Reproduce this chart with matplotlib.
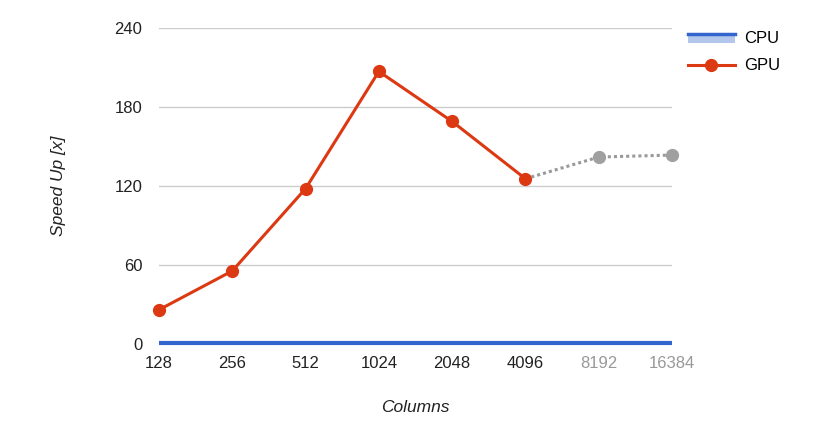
import matplotlib
matplotlib.use("Agg")
import matplotlib.pyplot as plt
from matplotlib.legend_handler import HandlerBase
from matplotlib.patches import Rectangle
from matplotlib.lines import Line2D

plt.rcParams['font.family'] = ['Liberation Sans', 'DejaVu Sans']

categories = ["128", "256", "512", "1024", "2048", "4096", "8192", "16384"]
cpu = [1, 1, 1, 1, 1, 1, 1, 1]
gpu = [26, 55.5, 118, 207, 169, 125.5, 142, 143.5]
n_solid = 6  # measured points; the rest are projected (gray)
yticks = [0, 60, 120, 180, 240]

RED = "#dc3912"
BLUE = "#3366cc"
GRAY = "#999999"

fig = plt.figure(figsize=(8.30, 4.43), dpi=100)
ax = fig.add_axes([159/830, 1-344/443, (672-159)/830, (344-28)/443])

x = list(range(len(categories)))
ax.set_xlim(0, len(categories)-1)
ax.set_ylim(0, 240)
ax.set_yticks(yticks)
ax.yaxis.grid(True, color="#cccccc", linewidth=1)
ax.set_axisbelow(True)
for s in ax.spines.values():
    s.set_visible(False)
ax.tick_params(length=0, labelsize=12, colors="#222222")
ax.tick_params(axis='y', pad=12)
ax.tick_params(axis='x', pad=9)
ax.set_xticks(x)
ax.set_xticklabels(categories)
for i, lbl in enumerate(ax.get_xticklabels()):
    if i >= n_solid:
        lbl.set_color("#999999")

# CPU line
ax.plot(x, cpu, color=BLUE, linewidth=3, zorder=3, clip_on=False,
        solid_capstyle='butt')
# GPU projected (dotted gray)
ax.plot(x[n_solid-1:], gpu[n_solid-1:], color=GRAY, linewidth=2.2,
        linestyle=(0, (1, 1)), zorder=4, clip_on=False)
ax.plot(x[n_solid:], gpu[n_solid:], 'o', color="#a0a0a0", markersize=8.5,
        zorder=5, clip_on=False)
# GPU measured
ax.plot(x[:n_solid], gpu[:n_solid], '-o', color=RED, linewidth=2.2,
        markersize=8.5, zorder=6, clip_on=False)

ax.set_xlabel("Columns", fontstyle="italic", fontsize=12.5, color="#222222")
ax.xaxis.set_label_coords(0.5, -(407-344)/316, transform=ax.transAxes)
ax.xaxis.label.set_verticalalignment('center')
ax.set_ylabel("Speed Up [x]", fontstyle="italic", fontsize=12.5,
              color="#222222")
ax.yaxis.set_label_coords(-(159-58)/513, 0.5, transform=ax.transAxes)
ax.yaxis.label.set_verticalalignment('center')


class AreaHandler(HandlerBase):
    def create_artists(self, legend, orig_handle, xdescent, ydescent,
                       width, height, fontsize, trans):
        r = Rectangle((-xdescent, -ydescent), width, height*0.75,
                      facecolor="#b3c6ec", edgecolor="none", transform=trans)
        l = Line2D([-xdescent, -xdescent+width],
                   [-ydescent+height*0.8, -ydescent+height*0.8],
                   color=BLUE, linewidth=2.5, transform=trans)
        return [r, l]


cpu_handle = Rectangle((0, 0), 1, 1)
gpu_handle = Line2D([], [], color=RED, linewidth=2.2, marker='o',
                    markersize=8.5)
leg = fig.legend([cpu_handle, gpu_handle], ["CPU", "GPU"],
                 handler_map={Rectangle: AreaHandler()},
                 loc="upper left", bbox_to_anchor=(688/830, 1-31/443),
                 frameon=False, fontsize=12, handlelength=2.8,
                 handletextpad=0.55, labelspacing=0.75, borderpad=0,
                 borderaxespad=0)

fig.savefig("out.png", dpi=100)
